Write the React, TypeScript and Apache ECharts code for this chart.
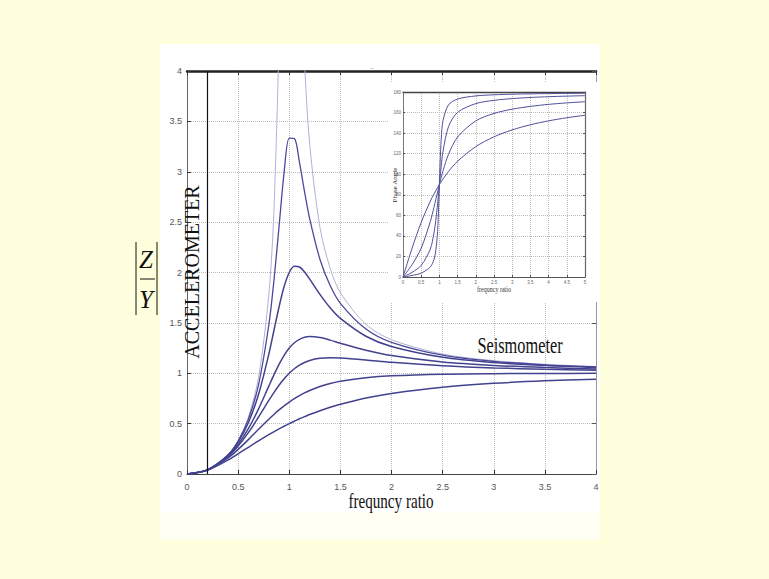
import React, { useEffect, useRef } from "react";
import * as echarts from "echarts";

// ---- Main plot: magnitude ratio |Z/Y| vs frequency ratio ----
const magRatio = [0, 0.2, 0.4, 0.5, 0.6, 0.7, 0.8, 0.85, 0.9, 0.95, 1.0, 1.05, 1.1, 1.15, 1.2, 1.3, 1.4, 1.5, 1.75, 2, 2.5, 3, 3.5, 4];
const magUndamped: (number | null)[] = [0, 0.042, 0.19, 0.333, 0.563, 0.961, 1.778, 2.604, 4.263, null, null, null, 5.76, 4.1, 3.273, 2.449, 2.042, 1.8, 1.485, 1.333, 1.19, 1.125, 1.089, 1.067];
const magZeta015 = [0, 0.042, 0.189, 0.327, 0.542, 0.888, 1.479, 1.917, 2.453, 2.996, 3.333, 3.329, 3.093, 2.8, 2.533, 2.132, 1.87, 1.694, 1.439, 1.307, 1.179, 1.118, 1.084, 1.063];
const magZeta025 = [0, 0.041, 0.185, 0.316, 0.509, 0.792, 1.189, 1.424, 1.658, 1.861, 2.0, 2.061, 2.055, 2.006, 1.935, 1.783, 1.65, 1.544, 1.367, 1.265, 1.158, 1.106, 1.076, 1.057];
const magZeta04 = [0, 0.041, 0.178, 0.294, 0.45, 0.647, 0.872, 0.984, 1.088, 1.178, 1.25, 1.303, 1.337, 1.357, 1.364, 1.354, 1.329, 1.298, 1.229, 1.176, 1.112, 1.078, 1.057, 1.043];
const magZeta05 = [0, 0.041, 0.172, 0.277, 0.41, 0.566, 0.73, 0.808, 0.881, 0.945, 1.0, 1.045, 1.08, 1.107, 1.127, 1.148, 1.155, 1.152, 1.132, 1.109, 1.075, 1.053, 1.04, 1.031];
const magZeta07 = [0, 0.04, 0.158, 0.244, 0.341, 0.444, 0.544, 0.591, 0.636, 0.677, 0.714, 0.748, 0.778, 0.805, 0.829, 0.868, 0.898, 0.921, 0.956, 0.975, 0.991, 0.996, 0.998, 0.999];
const magZeta10 = [0, 0.038, 0.138, 0.2, 0.265, 0.329, 0.39, 0.419, 0.448, 0.474, 0.5, 0.524, 0.548, 0.569, 0.59, 0.628, 0.662, 0.692, 0.754, 0.8, 0.862, 0.9, 0.925, 0.941];

// ---- Inset: phase angle vs frequency ratio ----
const phaseRatio = [0, 0.25, 0.5, 0.75, 0.85, 0.9, 0.95, 0.98, 1.0, 1.02, 1.05, 1.1, 1.25, 1.5, 2, 2.5, 3, 3.5, 4, 4.5, 5];
const phaseZeta005 = [0, 1.53, 3.81, 9.73, 17.03, 25.35, 44.25, 68.0, 90, 111.6, 134.31, 152.35, 167.47, 173.16, 176.19, 177.27, 177.85, 178.22, 178.47, 178.66, 178.81];
const phaseZeta015 = [0, 4.57, 11.31, 27.22, 42.58, 54.87, 71.11, 82.33, 90, 97.52, 108.02, 122.47, 146.31, 160.2, 168.69, 171.87, 173.58, 174.67, 175.43, 175.99, 176.42];
const phaseZeta04 = [0, 12.04, 28.07, 53.9, 67.8, 75.22, 82.69, 87.11, 90, 92.83, 96.96, 103.42, 119.36, 136.17, 151.93, 159.15, 163.3, 166.02, 167.96, 169.41, 170.54];
const phaseZeta10 = [0, 28.07, 53.13, 73.74, 80.73, 83.97, 87.06, 88.84, 90, 91.13, 92.79, 95.45, 102.68, 112.62, 126.87, 136.4, 143.13, 148.11, 151.93, 154.94, 157.38];

const zip = (xs: number[], ys: (number | null)[]) => xs.map((x, i) => [x, ys[i]]);

const SERIF = '"Liberation Serif", "DejaVu Serif", serif';
const SANS = '"Liberation Sans", Arial, sans-serif';

export default function App() {
  const ref = useRef<HTMLDivElement>(null);
  useEffect(() => {
    if (!ref.current) return;
    const chart = echarts.init(ref.current, undefined, { renderer: "svg" });
    const mainLine = (name: string, ys: (number | null)[], color: string, width: number, extra: any = {}) => ({
      name,
      type: "line",
      xAxisIndex: 0,
      yAxisIndex: 0,
      data: zip(magRatio, ys),
      showSymbol: false,
      smooth: 0.3,
      connectNulls: false,
      lineStyle: { color, width },
      z: 2,
      ...extra,
    });
    const insetLine = (name: string, ys: number[]) => ({
      name,
      type: "line",
      xAxisIndex: 2,
      yAxisIndex: 2,
      data: zip(phaseRatio, ys),
      showSymbol: false,
      smooth: 0.3,
      lineStyle: { color: "#50509a", width: 1 },
      z: 6,
    });
    const dotted = { show: true, lineStyle: { type: "dotted", color: "#bdbdbd", width: 1 } };
    const option: any = {
      animation: false,
      backgroundColor: "transparent",
      grid: [
        { left: 187, right: 173, top: 71, bottom: 105 },
        { left: 403, right: 184, top: 92, bottom: 302, z: 5 },
      ],
      xAxis: [
        {
          gridIndex: 0, type: "value", min: 0, max: 4, interval: 0.5,
          axisLine: { show: true, onZero: false, lineStyle: { color: "#444", width: 1.2 } },
          axisTick: { show: true, inside: true, length: 4, lineStyle: { color: "#333" } },
          axisLabel: { fontSize: 9, color: "#555", margin: 8, fontFamily: SANS },
          splitLine: dotted,
        },
        {
          gridIndex: 0, type: "value", position: "top", min: 0, max: 4, interval: 0.5,
          axisLine: { show: true, onZero: false, lineStyle: { color: "#222", width: 2.5 } },
          axisTick: { show: true, inside: true, length: 4, lineStyle: { color: "#333" } },
          axisLabel: { show: false }, splitLine: { show: false },
        },
        {
          gridIndex: 1, type: "value", min: 0, max: 5, interval: 0.5, z: 5,
          axisLine: { show: true, onZero: false, lineStyle: { color: "#555", width: 1 } },
          axisTick: { show: true, inside: true, length: 2, lineStyle: { color: "#555" } },
          axisLabel: { fontSize: 4.5, color: "#666", margin: 3, fontFamily: SANS },
          splitLine: dotted,
        },
        {
          gridIndex: 1, type: "value", position: "top", min: 0, max: 5, interval: 0.5, z: 5,
          axisLine: { show: true, onZero: false, lineStyle: { color: "#444", width: 1.3 } },
          axisTick: { show: false }, axisLabel: { show: false }, splitLine: { show: false },
        },
      ],
      yAxis: [
        {
          gridIndex: 0, type: "value", min: 0, max: 4, interval: 0.5,
          axisLine: { show: true, onZero: false, lineStyle: { color: "#666", width: 1 } },
          axisTick: { show: true, inside: true, length: 4, lineStyle: { color: "#333" } },
          axisLabel: { fontSize: 9, color: "#555", margin: 5, fontFamily: SANS },
          splitLine: dotted,
        },
        {
          gridIndex: 0, type: "value", position: "right", min: 0, max: 4, interval: 0.5,
          axisLine: { show: true, onZero: false, lineStyle: { color: "#999", width: 1 } },
          axisTick: { show: true, inside: true, length: 4, lineStyle: { color: "#555" } },
          axisLabel: { show: false }, splitLine: { show: false },
        },
        {
          gridIndex: 1, type: "value", min: 0, max: 180, interval: 20, z: 5,
          axisLine: { show: true, onZero: false, lineStyle: { color: "#777", width: 1 } },
          axisTick: { show: true, inside: true, length: 2, lineStyle: { color: "#555" } },
          axisLabel: { fontSize: 4.5, color: "#666", margin: 2, fontFamily: SANS },
          splitLine: dotted,
        },
        {
          gridIndex: 1, type: "value", position: "right", min: 0, max: 180, interval: 20, z: 5,
          axisLine: { show: true, onZero: false, lineStyle: { color: "#666", width: 1.2 } },
          axisTick: { show: true, inside: true, length: 2, lineStyle: { color: "#555" } },
          axisLabel: { show: false }, splitLine: { show: false },
        },
      ],
      series: [
        mainLine("undamped", magUndamped, "#b0b0d6", 1, {
          markLine: {
            silent: true, symbol: "none", label: { show: false },
            lineStyle: { color: "#111", type: "solid", width: 1.2 },
            data: [{ xAxis: 0.2 }],
          },
        }),
        mainLine("zeta 0.15", magZeta015, "#4a4a9c", 1.3),
        mainLine("zeta 0.25", magZeta025, "#42428f", 1.5),
        mainLine("zeta 0.4", magZeta04, "#42428f", 1.5),
        mainLine("zeta 0.5", magZeta05, "#42428f", 1.5),
        mainLine("zeta 0.7", magZeta07, "#42428f", 1.5),
        mainLine("zeta 1.0", magZeta10, "#42428f", 1.5),
        insetLine("phase 0.05", phaseZeta005),
        insetLine("phase 0.15", phaseZeta015),
        insetLine("phase 0.4", phaseZeta04),
        insetLine("phase 1.0", phaseZeta10),
      ],
      graphic: [
        { type: "rect", z: 3, shape: { x: 389, y: 82, width: 211, height: 220 }, style: { fill: "#ffffff" } },
        { type: "text", z: 10, x: 372, y: 66, style: { text: "..", font: `8px ${SANS}`, fill: "#777", align: "center", verticalAlign: "middle" } },
        { type: "text", z: 10, x: 520, y: 345, scaleX: 0.68, style: { text: "Seismometer", font: `24px ${SERIF}`, fill: "#111", align: "center", verticalAlign: "middle" } },
        { type: "text", z: 10, x: 192, y: 272, rotation: Math.PI / 2, style: { text: "ACCELEROMETER", font: `20px ${SERIF}`, fill: "#111", align: "center", verticalAlign: "middle" } },
        { type: "text", z: 10, x: 391, y: 501, scaleX: 0.72, style: { text: "frequncy ratio", font: `21px ${SERIF}`, fill: "#111", align: "center", verticalAlign: "middle" } },
        { type: "text", z: 10, x: 395, y: 185, rotation: Math.PI / 2, style: { text: "Phase Angle", font: `7px ${SERIF}`, fill: "#333", align: "center", verticalAlign: "middle" } },
        { type: "text", z: 10, x: 494, y: 290, scaleX: 0.75, style: { text: "frequncy ratio", font: `8px ${SERIF}`, fill: "#333", align: "center", verticalAlign: "middle" } },
        { type: "text", z: 10, x: 146, y: 259, style: { text: "Z", font: `italic 25px ${SERIF}`, fill: "#111", align: "center", verticalAlign: "middle" } },
        { type: "text", z: 10, x: 146, y: 299, style: { text: "Y", font: `italic 25px ${SERIF}`, fill: "#111", align: "center", verticalAlign: "middle" } },
        { type: "line", z: 10, shape: { x1: 140, y1: 279, x2: 155, y2: 279 }, style: { stroke: "#111", lineWidth: 1 } },
        { type: "line", z: 10, shape: { x1: 136, y1: 242, x2: 136, y2: 315 }, style: { stroke: "#111", lineWidth: 1 } },
        { type: "line", z: 10, shape: { x1: 157, y1: 242, x2: 157, y2: 315 }, style: { stroke: "#111", lineWidth: 1 } },
      ],
    };
    chart.setOption(option);
    return () => chart.dispose();
  }, []);

  return (
    <div style={{ position: "fixed", left: 0, top: 0, width: 769, height: 579, background: "#FFFFDD", overflow: "hidden" }}>
      <div style={{ position: "absolute", left: 160, top: 44, width: 440, height: 468, background: "#ffffff" }} />
      <div style={{ position: "absolute", left: 160, top: 512, width: 440, height: 28, background: "#FFFFF3" }} />
      <div ref={ref} style={{ position: "absolute", left: 0, top: 0, width: 769, height: 579 }} />
    </div>
  );
}
